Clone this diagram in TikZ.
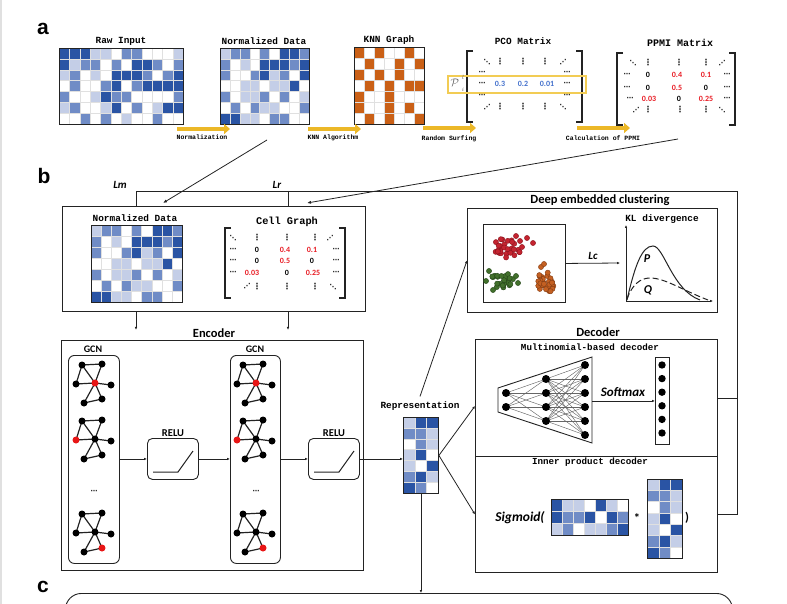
\documentclass[tikz,border=0pt]{standalone}
\usepackage{graphicx}
\usepackage{fontspec}
\setmainfont{Carlito}
\newfontfamily\monof{Liberation Mono}
\newfontfamily\sansf{Liberation Sans}
\newfontfamily\dejavu{DejaVu Sans}
\usetikzlibrary{arrows.meta,calc}
\definecolor{hm0}{RGB}{255,255,255}
\definecolor{hm1}{RGB}{196,206,231}
\definecolor{hm2}{RGB}{112,140,198}
\definecolor{hm3}{RGB}{42,84,164}
\definecolor{ok0}{RGB}{255,255,255}
\definecolor{ok1}{RGB}{202,96,22}
\definecolor{gold}{RGB}{236,184,40}
\definecolor{hlyel}{RGB}{242,204,84}
\definecolor{nred}{RGB}{232,28,36}
\definecolor{nblue}{RGB}{66,112,204}
\definecolor{ink}{RGB}{35,35,35}
\definecolor{gred}{RGB}{232,22,22}
\definecolor{cr}{RGB}{196,36,48}
\definecolor{crd}{RGB}{140,20,30}
\definecolor{cg}{RGB}{66,112,44}
\definecolor{cgd}{RGB}{36,70,24}
\definecolor{co}{RGB}{196,96,34}
\definecolor{cod}{RGB}{130,60,20}

\newcommand\hmap[6]{%
  \foreach \rowlist [count=\ri] in {#6} {%
    \foreach \v [count=\ci] in \rowlist {%
      \filldraw[fill=#1\v, draw=black!12, line width=0.3pt]
        ({#2+(\ci-1)*#4},{#3+(\ri-1)*#5}) rectangle ++(#4,#5);
    }%
  }%
}
\newcommand\gcng[3]{%
  \begin{scope}[shift={(#1,#2)}]
    \coordinate (gA) at (-13,-18);
    \coordinate (gB) at (7,-19);
    \coordinate (gC) at (-19,1);
    \coordinate (gD) at (0,0);
    \coordinate (gE) at (16,2);
    \coordinate (gF) at (-11,20);
    \coordinate (gG) at (7,16);
    \draw[line width=1.2pt, ink] (gA)--(gB) (gA)--(gC) (gA)--(gD) (gB)--(gD) (gC)--(gD) (gD)--(gE) (gD)--(gF) (gF)--(gG) (gG)--(gD);
    \foreach \p [count=\k] in {A,B,C,D,E,F,G} {%
      \ifnum\k=#3\relax\def\gcol{gred}\else\def\gcol{black}\fi
      \fill[\gcol] (g\p) circle (3.5pt);
    }
  \end{scope}}

\begin{document}
\begin{tikzpicture}[x=1pt,y=-1pt,
  box/.style={draw=ink, line width=0.9pt, inner sep=0pt, anchor=north west},
  rbox/.style={box, rounded corners=6pt},
  ttl/.style={inner sep=0pt, font=\monof\bfseries\fontsize{9.4}{10}\selectfont},
  stl/.style={inner sep=0pt, font=\monof\bfseries\fontsize{6.5}{7}\selectfont},
  sec/.style={inner sep=0pt, font=\bfseries\fontsize{12.5}{14}\selectfont},
  num/.style={inner sep=0pt, font=\bfseries\fontsize{8}{9}\selectfont},
  mdot/.style={inner sep=0pt, text=ink, font=\dejavu\bfseries\fontsize{7}{7}\selectfont},
  vdot/.style={inner sep=0pt, text=ink, font=\dejavu\bfseries\fontsize{8.5}{8.5}\selectfont},
  panel/.style={inner sep=0pt, font=\sansf\bfseries\fontsize{21}{22}\selectfont},
  bi/.style={inner sep=0pt, font=\bfseries\itshape\fontsize{11}{12}\selectfont},
  arr/.style={line width=0.8pt, draw=ink, -{Latex[length=4pt,width=3.2pt]}},
  sarr/.style={line width=0.8pt, draw=ink, -{Latex[length=3pt,width=2.6pt]}},
  conn/.style={line width=0.9pt, draw=ink},
  garr/.style={line width=4pt, draw=gold, -{Triangle[length=6pt,width=10pt]}},
  brk/.style={line width=1.5pt, draw=ink},
  nnode/.style={fill=black},
  pidx/.style={inner sep=0pt, text=black!60, font=\fontsize{6.5}{6.5}\selectfont},
]
\useasboundingbox (0,0) rectangle (787,604);
\fill[black!12] (0,0) rectangle (1.5,604);

% ================= a =================
\node[panel] (pa) at (43,29) {a};

\node[ttl] (traw) at (121,41) {Raw Input};
\hmap{hm}{59}{48}{10.333}{10.857}{{3,3,3,1,1,0,2,2,0,0,0,1},{3,1,2,2,0,2,0,3,3,2,0,2},{1,2,0,1,0,3,3,3,2,0,2,3},{0,2,0,0,2,3,0,2,3,3,3,3},{2,0,0,1,3,2,2,0,0,0,0,2},{1,2,0,0,1,3,0,2,0,1,3,3},{0,0,2,0,2,0,1,0,0,2,0,0}}
\node[box, minimum width=124pt, minimum height=76pt] (rawin) at (59,48) {};

\node[ttl] (tnorm) at (264,41) {Normalized Data};
\hmap{hm}{220}{48}{9.889}{10.857}{{1,2,2,0,2,0,3,3,2},{2,0,1,0,3,3,3,2,3},{2,0,0,2,3,1,2,0,3},{0,0,1,1,0,1,1,3,0},{2,0,1,1,2,0,2,0,1},{0,2,0,2,1,1,0,0,2},{3,3,1,1,0,2,2,0,0}}
\node[box, minimum width=89pt, minimum height=76pt] (norma) at (220,48) {};

\node[ttl] (tknn) at (389,40) {KNN Graph};
\hmap{ok}{354}{47}{10}{11}{{1,0,1,0,0,1,0},{0,1,0,0,1,0,1},{1,0,1,0,1,0,0},{0,1,0,1,0,1,1},{1,0,0,1,0,0,0},{1,0,0,1,0,1,0},{0,1,0,1,0,0,1}}
\node[box, minimum width=70pt, minimum height=77pt] (knn) at (354,47) {};

% gold process arrows
\coordinate (g1s) at (177,129); \coordinate (g1e) at (230,129);
\coordinate (g2s) at (308,129); \coordinate (g2e) at (361,129);
\coordinate (g3s) at (423,128); \coordinate (g3e) at (476,128);
\coordinate (g4s) at (577,128); \coordinate (g4e) at (630,128);
\draw[garr] (g1s) -- (g1e);
\draw[garr] (g2s) -- (g2e);
\draw[garr] (g3s) -- (g3e);
\draw[garr] (g4s) -- (g4e);
\node[stl] (lnorm) at (202,137.5) {Normalization};
\node[stl] (lknn) at (333,137.5) {KNN Algorithm};
\node[stl] (lrs) at (449,138.5) {Random Surfing};
\node[stl] (lppmi) at (603,138.5) {Calculation of PPMI};

% PCO matrix
\node[ttl] (tpco) at (523,41) {PCO Matrix};
\draw[brk] (473,51) -- (467,51) -- (467,122) -- (473,122);
\draw[brk] (576,51) -- (582,51) -- (582,122) -- (576,122);
\node[draw=hlyel, line width=1.6pt, minimum width=138pt, minimum height=17pt, anchor=north west, inner sep=0pt] (hl) at (447,75) {};
\node[inner sep=0pt, text=black!60, font=\fontsize{11}{12}\selectfont] (pil) at (455,83) {$\mathcal{P}$};
\node[pidx] (pils) at (463,77) {$l$};
\node[pidx] (pili) at (463,90) {$i$};

% PPMI matrix
\node[ttl, font=\monof\bfseries\fontsize{10}{11}\selectfont] (tppmi) at (680,43) {PPMI Matrix};
\draw[brk] (623,53) -- (617,53) -- (617,125) -- (623,125);
\draw[brk] (729,53) -- (735,53) -- (735,125) -- (729,125);

% ================= b =================
\node[panel] (pb) at (44,176) {b};
\node[box, minimum width=303pt, minimum height=105pt] (inbox) at (62,206) {};
\node[ttl] (tnormb) at (135,218) {Normalized Data};
\hmap{hm}{91}{225}{10.111}{11}{{1,2,2,0,2,0,3,3,2},{2,0,1,0,3,3,3,2,3},{2,0,0,2,3,1,2,0,3},{0,0,1,1,0,1,1,3,0},{2,0,1,1,2,0,2,0,1},{0,2,0,2,1,1,0,0,2},{3,3,1,1,0,2,2,0,0}}
\node[box, minimum width=91pt, minimum height=77pt] (normb) at (91,225) {};
\node[ttl, font=\monof\bfseries\fontsize{10.3}{11}\selectfont] (tcell) at (287,222) {Cell Graph};
\draw[brk] (231,228) -- (225,228) -- (225,298) -- (231,298);
\draw[brk] (339,228) -- (345,228) -- (345,298) -- (339,298);

% matrix entries (PCO, PPMI, Cell Graph)
\foreach \x/\y [count=\k] in {487/62,563/107,633/63,722/110,233/238,333/287}
  \node[mdot] (dd\k) at (\x,\y) {⋱};
\foreach \x/\y [count=\k] in {563/62,487/107,722/63,636/110,330/238,247/286}
  \node[mdot] (id\k) at (\x,\y) {⋰};
\foreach \x/\y [count=\k] in {500/62,523/62,545/62,500/107,523/107,545/107,648/63,679/63,706/63,648/110,680/110,706/110,257/238,287/238,315/238,257/287,287/287,315/287}
  \node[vdot] (vd\k) at (\x,\y) {⋮};
\foreach \x/\y [count=\k] in {482/73,567/73,482/84,567/84,482/96,567/96,627/75,727/75,627/88,727/88,630/99,727/99,233/250,336/250,233/261,336/261,233/273,336/273}
  \node[mdot] (cd\k) at (\x,\y) {⋯};
\foreach \x/\y/\t [count=\k] in {648/75/0,648/88/0,706/88/0,679/99/0,257/250/0,257/261/0,312/261/0,287/273/0}
  \node[num] (nk\k) at (\x,\y) {\t};
\foreach \x/\y/\t [count=\k] in {677/75/0.4,706/75/0.1,677/88/0.5,649/99/0.03,706/99/0.25,285/250/0.4,312/250/0.1,285/261/0.5,252/273/0.03,313/273/0.25}
  \node[num, text=nred] (nr\k) at (\x,\y) {\t};
\foreach \x/\y/\t [count=\k] in {500/84/0.3,523/84/0.2,547/84/0.01}
  \node[num, text=nblue] (nb\k) at (\x,\y) {\t};

% arrows from a to b
\coordinate (fromN) at (267,140); \coordinate (toN) at (163,203);
\coordinate (fromP) at (678,139); \coordinate (toP) at (307,203);
\draw[arr] (fromN) -- (toN);
\draw[arr] (fromP) -- (toP);

% ---------- Encoder ----------
\node[sec] (tenc) at (214,333) {Encoder};
\node[box, minimum width=302pt, minimum height=230pt] (enc) at (61,340) {};
\node[rbox, minimum width=51pt, minimum height=208pt] (gcn1) at (68,355) {};
\node[rbox, minimum width=50pt, minimum height=208pt] (gcn2) at (230,355) {};
\node[sec, font=\bfseries\fontsize{10}{11}\selectfont] (tg1) at (93,349) {GCN};
\node[sec, font=\bfseries\fontsize{10}{11}\selectfont] (tg2) at (255,349) {GCN};
\gcng{95}{383}{4}
\gcng{95}{439}{3}
\gcng{95}{532}{7}
\gcng{256}{383}{4}
\gcng{256}{439}{3}
\gcng{256}{532}{7}
\node[mdot] (gdots1) at (94,492) {⋯};
\node[mdot] (gdots2) at (256,492) {⋯};

\node[rbox, rounded corners=5pt, minimum width=51pt, minimum height=41pt] (relu1) at (147,438) {};
\node[rbox, rounded corners=5pt, minimum width=51pt, minimum height=41pt] (relu2) at (308,438) {};
\node[sec, font=\bfseries\fontsize{10.5}{11}\selectfont] (tr1) at (173,433) {RELU};
\node[sec, font=\bfseries\fontsize{10.5}{11}\selectfont] (tr2) at (334,433) {RELU};
\draw[line width=1pt, ink] ($(relu1.north west)+(6,34)$) -- ++(25,0) -- ++(15,-21);
\draw[line width=1pt, ink] ($(relu2.north west)+(6,34)$) -- ++(25,0) -- ++(15,-21);

% ---------- Representation ----------
\node[ttl] (trep) at (420,406) {Representation};
\hmap{hm}{403}{417}{11.667}{10.857}{{1,3,3},{2,2,1},{0,2,1},{1,3,0},{1,0,3},{2,3,1},{3,2,0}}
\node[box, minimum width=35pt, minimum height=76pt] (rep) at (403,417) {};

\draw[sarr] (gcn1.east |- relu1.west) -- (relu1.west);
\draw[sarr] (relu1.east) -- (relu1.east -| gcn2.west);
\draw[sarr] (gcn2.east |- relu2.west) -- (relu2.west);
\draw[sarr] (relu2.east) -- (relu2.east -| rep.west);

% ---------- Deep embedded clustering ----------
\node[sec] (tdec) at (600,200) {Deep embedded clustering};
\node[box, minimum width=250pt, minimum height=104pt] (dec) at (467,208) {};
\node[box, minimum width=82pt, minimum height=78pt] (scat) at (483,224) {};
\pgfmathsetseed{42}
\foreach \k in {1,...,30} {
  \pgfmathsetmacro\th{360*rnd}
  \pgfmathsetmacro\rr{sqrt(rnd)}
  \pgfmathsetmacro\px{506+15*\rr*cos(\th)}
  \pgfmathsetmacro\py{248+10*\rr*sin(\th)}
  \filldraw[fill=cr, draw=crd, line width=0.4pt] (\px,\py) circle (2.6pt);
}
\foreach \px/\py in {520/241,527/238,533/243,516/236,522/247}
  \filldraw[fill=cr, draw=crd, line width=0.4pt] (\px,\py) circle (2.6pt);
\foreach \k in {1,...,22} {
  \pgfmathsetmacro\th{360*rnd}
  \pgfmathsetmacro\rr{sqrt(rnd)}
  \pgfmathsetmacro\px{502+11*\rr*cos(\th)}
  \pgfmathsetmacro\py{280+8*\rr*sin(\th)}
  \filldraw[fill=cg, draw=cgd, line width=0.4pt] (\px,\py) circle (2.6pt);
}
\foreach \px/\py in {516/276,518/283,489/271,493/290,486/281}
  \filldraw[fill=cg, draw=cgd, line width=0.4pt] (\px,\py) circle (2.6pt);
\foreach \k in {1,...,28} {
  \pgfmathsetmacro\th{360*rnd}
  \pgfmathsetmacro\rr{sqrt(rnd)}
  \pgfmathsetmacro\px{546+9*\rr*cos(\th)}
  \pgfmathsetmacro\py{282+11*\rr*sin(\th)}
  \filldraw[fill=co, draw=cod, line width=0.4pt] (\px,\py) circle (2.6pt);
}
\foreach \px/\py in {541/267,544/264}
  \filldraw[fill=co, draw=cod, line width=0.4pt] (\px,\py) circle (2.6pt);

\coordinate (klin) at (620,263);
\draw[sarr] (scat.east) -- (klin);
\node[bi] (lc) at (593,256) {Lc};
\coordinate (kor) at (626,301);
\coordinate (kytop) at (626,225);
\coordinate (kxend) at (713,301);
\draw[sarr] (kor) -- (kytop);
\draw[sarr] (kor) -- (kxend);
\node[ttl] (tkl) at (662,219) {KL divergence};
\draw[line width=1pt, ink] (627,300) .. controls (635,265) and (642,246) .. (653,246) .. controls (664,246) and (672,290) .. (700,300);
\draw[line width=1pt, ink, dash pattern=on 6pt off 3pt] (627,299) .. controls (632,285) and (640,278) .. (650,278) .. controls (665,278) and (682,290) .. (708,300);
\node[bi, font=\bfseries\itshape\fontsize{12}{13}\selectfont] (lp) at (647,259) {P};
\node[bi, font=\bfseries\itshape\fontsize{12}{13}\selectfont] (lq) at (648,290) {Q};

\draw[sarr] ($(trep.north)+(0,-5)$) -- ($(trep.north)+(0,-5)$ |- dec.west) -- (dec.west);

% ---------- Decoder ----------
\node[sec] (tdecod) at (598,332) {Decoder};
\node[box, minimum width=242pt, minimum height=117pt] (multdec) at (475,339) {};
\node[box, minimum width=242pt, minimum height=116pt] (ipdec) at (475,456) {};
\node[ttl, font=\monof\bfseries\fontsize{9.2}{10}\selectfont] (tmult) at (590,347) {Multinomial-based decoder};
\node[ttl, font=\monof\bfseries\fontsize{9.2}{10}\selectfont] (tip) at (590,462) {Inner product decoder};

\draw[sarr] (rep.east) -- ($(multdec.west)+(0,8)$);
\draw[sarr] (rep.east) -- (ipdec.west);

% network
\draw[conn] (498,388) -- (592,357) -- (592,443) -- (498,412) -- cycle;
\coordinate (trapR) at (592,400);
\foreach \a in {393,407} \foreach \b in {379,393,407,421}
  \draw[black!60, line width=0.45pt] (506,\a) -- (546,\b);
\foreach \a in {379,393,407,421} \foreach \b in {365,379,393,407,421,435}
  \draw[black!60, line width=0.45pt] (546,\a) -- (585,\b);
\foreach \a in {393,407} \fill[nnode] (506,\a) circle (4pt);
\foreach \a in {379,393,407,421} \fill[nnode] (546,\a) circle (4pt);
\foreach \a in {365,379,393,407,421,435} \fill[nnode] (585,\a) circle (4pt);

\node[box, minimum width=14pt, minimum height=87pt] (soft) at (655,357) {};
\foreach \a in {365,378.6,392.2,405.8,419.4,433} \fill[nnode] (662,\a) circle (3.7pt);
\draw[sarr] (trapR |- soft.west) -- (soft.west);
\node[bi, font=\bfseries\itshape\fontsize{13}{14}\selectfont] (tsoft) at (623,392) {Softmax};

% inner product
\node[bi, font=\bfseries\itshape\fontsize{13.5}{14}\selectfont] (tsig) at (520,518) {Sigmoid(};
\hmap{hm}{551}{499}{11}{12}{{3,1,1,0,3,1,0},{3,2,2,3,0,3,2},{1,2,0,1,1,2,3}}
\node[box, minimum width=77pt, minimum height=36pt] (ipm1) at (551,499) {};
\node[sec] (tstar) at (637,518) {*};
\hmap{hm}{647}{479}{11.667}{11.286}{{1,3,3},{2,2,1},{0,2,1},{1,3,0},{1,0,3},{2,3,1},{3,2,0}}
\node[box, minimum width=35pt, minimum height=79pt] (ipm2) at (647,479) {};
\node[sec] (tclose) at (687,518) {)};

% loss lines
\coordinate (lossTR) at (737,191);
\coordinate (lmtop) at (136,191);
\coordinate (lrtop) at (288,191);
\draw[conn] (multdec.east) -- (multdec.east -| lossTR) -- (lossTR) -- (lmtop) -- (lmtop |- inbox.north);
\draw[conn] (lrtop) -- (lrtop |- inbox.north);
\draw[conn] (ipdec.east) -- (ipdec.east -| lossTR) -- (lossTR |- multdec.east);
\node[bi] (lm) at (120,185) {Lm};
\node[bi] (lr) at (277,185) {Lr};

\draw[sarr] (lmtop |- inbox.south) -- ++(0,18);
\draw[sarr] (lrtop |- inbox.south) -- ++(0,18);

% ================= c =================
\node[panel] (pc) at (43,587) {c};
\node[box, rounded corners=16pt, minimum width=667pt, minimum height=80pt] (cbox) at (65,593) {};
\draw[sarr] (rep.south) -- (rep.south |- cbox.north);
\end{tikzpicture}
\end{document}
